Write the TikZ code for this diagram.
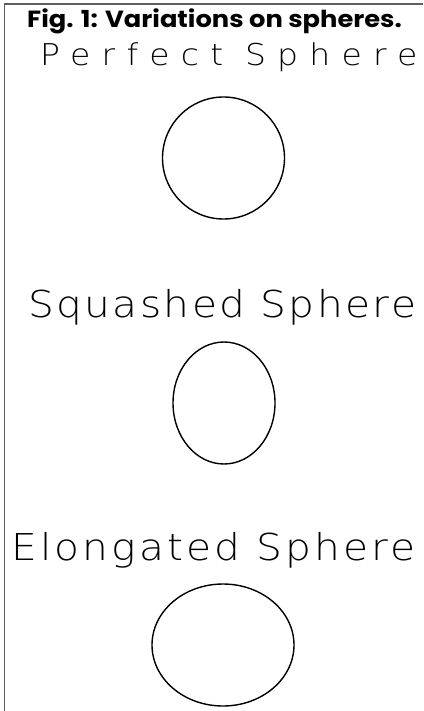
\documentclass[tikz,border=0pt]{standalone}
\usepackage{fontspec}
\usepackage{tikz}
\usetikzlibrary{shapes.geometric}
\setmainfont{Poppins}
\newfontfamily\captionfont[FakeStretch=1.1]{Poppins}
\newfontfamily\strokefont[FakeStretch=1.1]{DejaVu Sans ExtraLight}
\definecolor{framec}{HTML}{5E5E5E}
\definecolor{inkc}{HTML}{000000}
\tikzset{
  frameline/.style={draw=framec, line width=1.6pt},
  caption/.style={anchor=base west, inner sep=0pt, font=\captionfont\fontsize{23.4}{26}\selectfont\bfseries},
  shapename/.style={anchor=base west, inner sep=0pt, text=inkc},
  sphere/.style={draw=inkc, line width=1.4pt, inner sep=0pt, ellipse},
}

\begin{document}
\begin{tikzpicture}[x=1pt,y=-1pt]
\useasboundingbox (0,0) rectangle (423,711);
\draw[frameline] (4.500,711) -- (4.500,4) -- (423,4);
\node[caption] (fig) at (27,28) {Fig. 1: Variations on spheres.};
\node[shapename, font=\strokefont\addfontfeature{LetterSpace=37.5}\fontsize{30}{34}\selectfont] (perfect) at (40,66) {Perfect Sphere};
\node[shapename, font=\strokefont\addfontfeature{LetterSpace=6.5}\fontsize{37}{40}\selectfont] (squashed) at (28,317) {Squashed Sphere};
\node[shapename, font=\strokefont\addfontfeature{LetterSpace=8.5}\fontsize{37}{40}\selectfont] (elongated) at (11,560) {Elongated Sphere};
\node[sphere, minimum width=122pt, minimum height=122pt] (round) at (223.500,158) {};
\node[sphere, minimum width=102pt, minimum height=122pt] (squash) at (224.000,403) {};
\node[sphere, minimum width=142pt, minimum height=122pt] (elong) at (223.000,645) {};
\end{tikzpicture}
\end{document}
